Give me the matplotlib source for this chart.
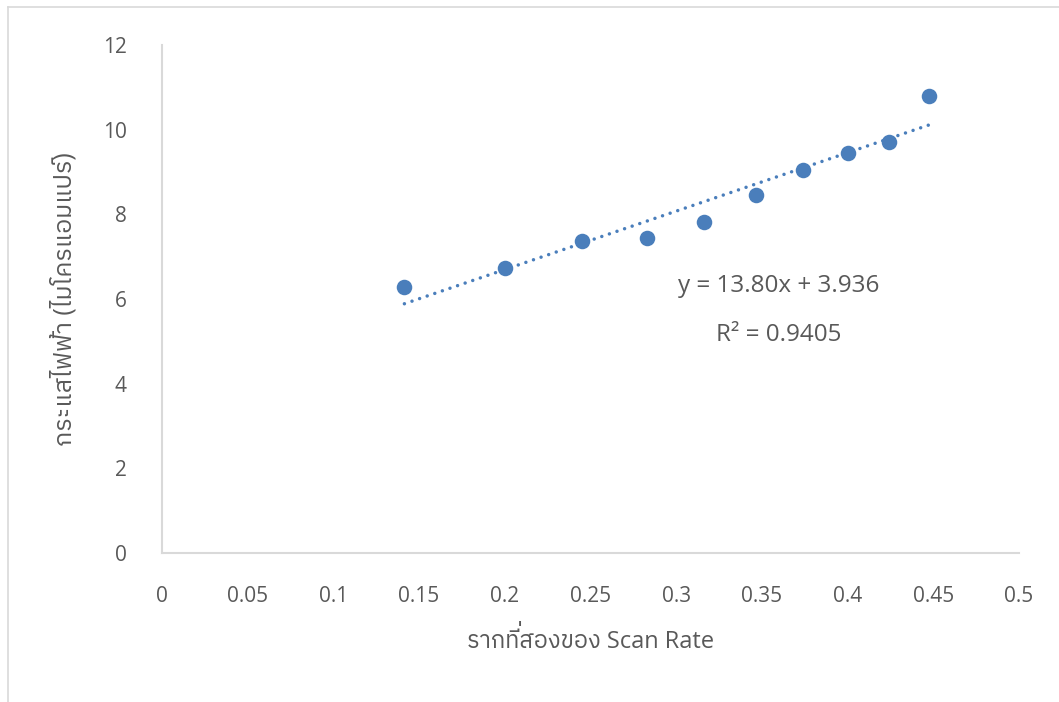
import numpy as np
import matplotlib
matplotlib.use("Agg")
import matplotlib.pyplot as plt
from matplotlib import font_manager
from matplotlib.ft2font import FT2Font
from matplotlib.lines import Line2D

# data: current vs square root of scan rate
scan_rate = [0.02, 0.04, 0.06, 0.08, 0.10, 0.12, 0.14, 0.16, 0.18, 0.20]
current = [6.28, 6.73, 7.37, 7.44, 7.82, 8.46, 9.05, 9.45, 9.71, 10.80]
slope = 13.80
intercept = 3.936
r_squared = 0.9405
x_ticks = [0, 0.05, 0.1, 0.15, 0.2, 0.25, 0.3, 0.35, 0.4, 0.45, 0.5]
x_tick_labels = ["0", "0.05", "0.1", "0.15", "0.2", "0.25", "0.3", "0.35", "0.4", "0.45", "0.5"]
y_ticks = [0, 2, 4, 6, 8, 10, 12]
x_title = "รากที่สองของ Scan Rate"
y_title = "กระแสไฟฟ้า (ไมโครแอมแปร์)"

MAI_EK = "\u0e48"


def thai_families():
    # installed fonts that have Thai glyphs
    found = set()
    for f in font_manager.fontManager.ttflist:
        try:
            if 0x0E01 in FT2Font(f.fname).get_charmap():
                found.add(f.name)
        except Exception:
            pass
    return sorted(found, key=lambda n: (0 if "Thai" in n else 1, n))


thai = thai_families()
fam = ["Open Sans"] + thai[:1] + ["DejaVu Sans"]
plt.rcParams["font.family"] = fam

grey = "#595959"
blue = "#4a7ebb"

x = np.sqrt(np.array(scan_rate))
y = np.array(current)

fig = plt.figure(figsize=(10.59, 7.02), dpi=100)
W, H = fig.bbox.width, fig.bbox.height
ax = fig.add_axes([162 / 1059, 1 - 553 / 702, 857 / 1059, 508 / 702])

ax.scatter(x, y, s=125, color=blue, zorder=3, linewidths=0)

xt = np.array([x.min(), x.max()])
ax.plot(xt, slope * xt + intercept, color=blue, lw=2.5,
        linestyle=(0, (0.01, 2.3)), dash_capstyle="round", zorder=2)

ax.set_xlim(0, 0.5)
ax.set_ylim(0, 12)
ax.set_xticks(x_ticks)
ax.set_xticklabels(x_tick_labels)
ax.set_yticks(y_ticks)
ax.tick_params(length=0, colors=grey, labelsize=15)
ax.tick_params(axis="x", pad=24)
ax.tick_params(axis="y", pad=25.5)

for s in ["top", "right"]:
    ax.spines[s].set_visible(False)
for s in ["left", "bottom"]:
    ax.spines[s].set_color("#d9d9d9")
    ax.spines[s].set_linewidth(1.5)

ax.set_ylabel(y_title, color=grey, fontsize=18, labelpad=18)

# x title: no shaping engine, so a tone mark stacked on an upper vowel
# would overlap it; draw the text without it and put the mark on top
i_mark = x_title.index(MAI_EK)
plain = x_title[:i_mark] + x_title[i_mark + 1:]
x_mid = (162 + 1019) / 2 / W
base_y = 1 - 648 / H
xlab = fig.text(x_mid, base_y, plain, color=grey, fontsize=17,
                ha="center", va="baseline")
renderer = fig.canvas.get_renderer()
bb = xlab.get_window_extent(renderer)
pw, _, _ = renderer.get_text_width_height_descent(
    plain[:i_mark], xlab.get_fontproperties(), ismath=False)
raise_px = 0.27 * 17 * fig.dpi / 72
fig.text((bb.x0 + pw + 2) / W, base_y + raise_px / H, MAI_EK, color=grey,
         fontsize=17, ha="left", va="baseline")

ax.text(0.36, 6.3, "y = %.2fx + %.3f" % (slope, intercept), color=grey,
        fontsize=17.5, ha="center", va="center")
ax.text(0.36, 5.15, "R² = %.4f" % r_squared, color=grey,
        fontsize=17.5, ha="center", va="center")

# chart area border (only top and left edges are visible)
fig.add_artist(Line2D([8 / 1059, 8 / 1059], [0, 1 - 7 / 702],
                      transform=fig.transFigure, color="#d9d9d9", lw=1.2))
fig.add_artist(Line2D([8 / 1059, 1], [1 - 7 / 702, 1 - 7 / 702],
                      transform=fig.transFigure, color="#d9d9d9", lw=1.2))

fig.savefig("out.png", dpi=100)
